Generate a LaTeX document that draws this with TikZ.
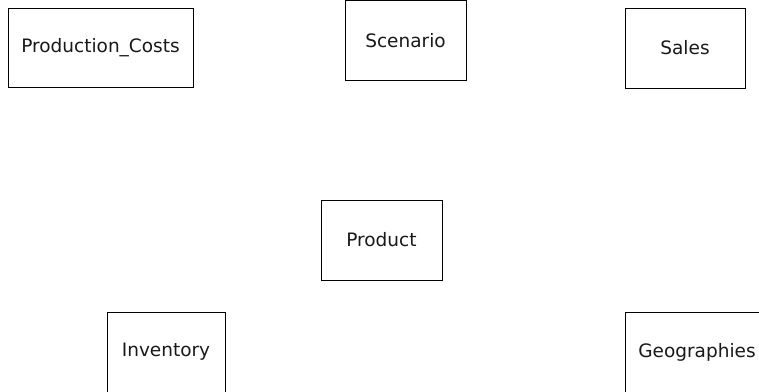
\documentclass[tikz,border=0pt]{standalone}
\usepackage{fontspec}
\setmainfont{DejaVu Sans}
\begin{document}
\begin{tikzpicture}[x=1pt,y=-1pt,
  entity/.style={draw=black, line width=1pt, inner sep=0pt, minimum height=80pt,
    font=\fontsize{18.5}{20}\selectfont, text=black!90}]
\useasboundingbox (0,0) rectangle (759,391);
\node[entity, minimum width=185pt, minimum height=79pt] (pc) at (100.5,47.5) {Production\_Costs};
\node[entity, minimum width=121pt] (sc) at (405.5,40.5) {Scenario};
\node[entity, minimum width=120pt] (sa) at (685,48) {Sales};
\node[entity, minimum width=121pt] (pr) at (381.5,240) {Product};
\node[entity, minimum width=118pt] (in) at (166,352) {Inventory};
\node[entity, minimum width=144pt] (ge) at (697,352) {Geographies};
\end{tikzpicture}
\end{document}
